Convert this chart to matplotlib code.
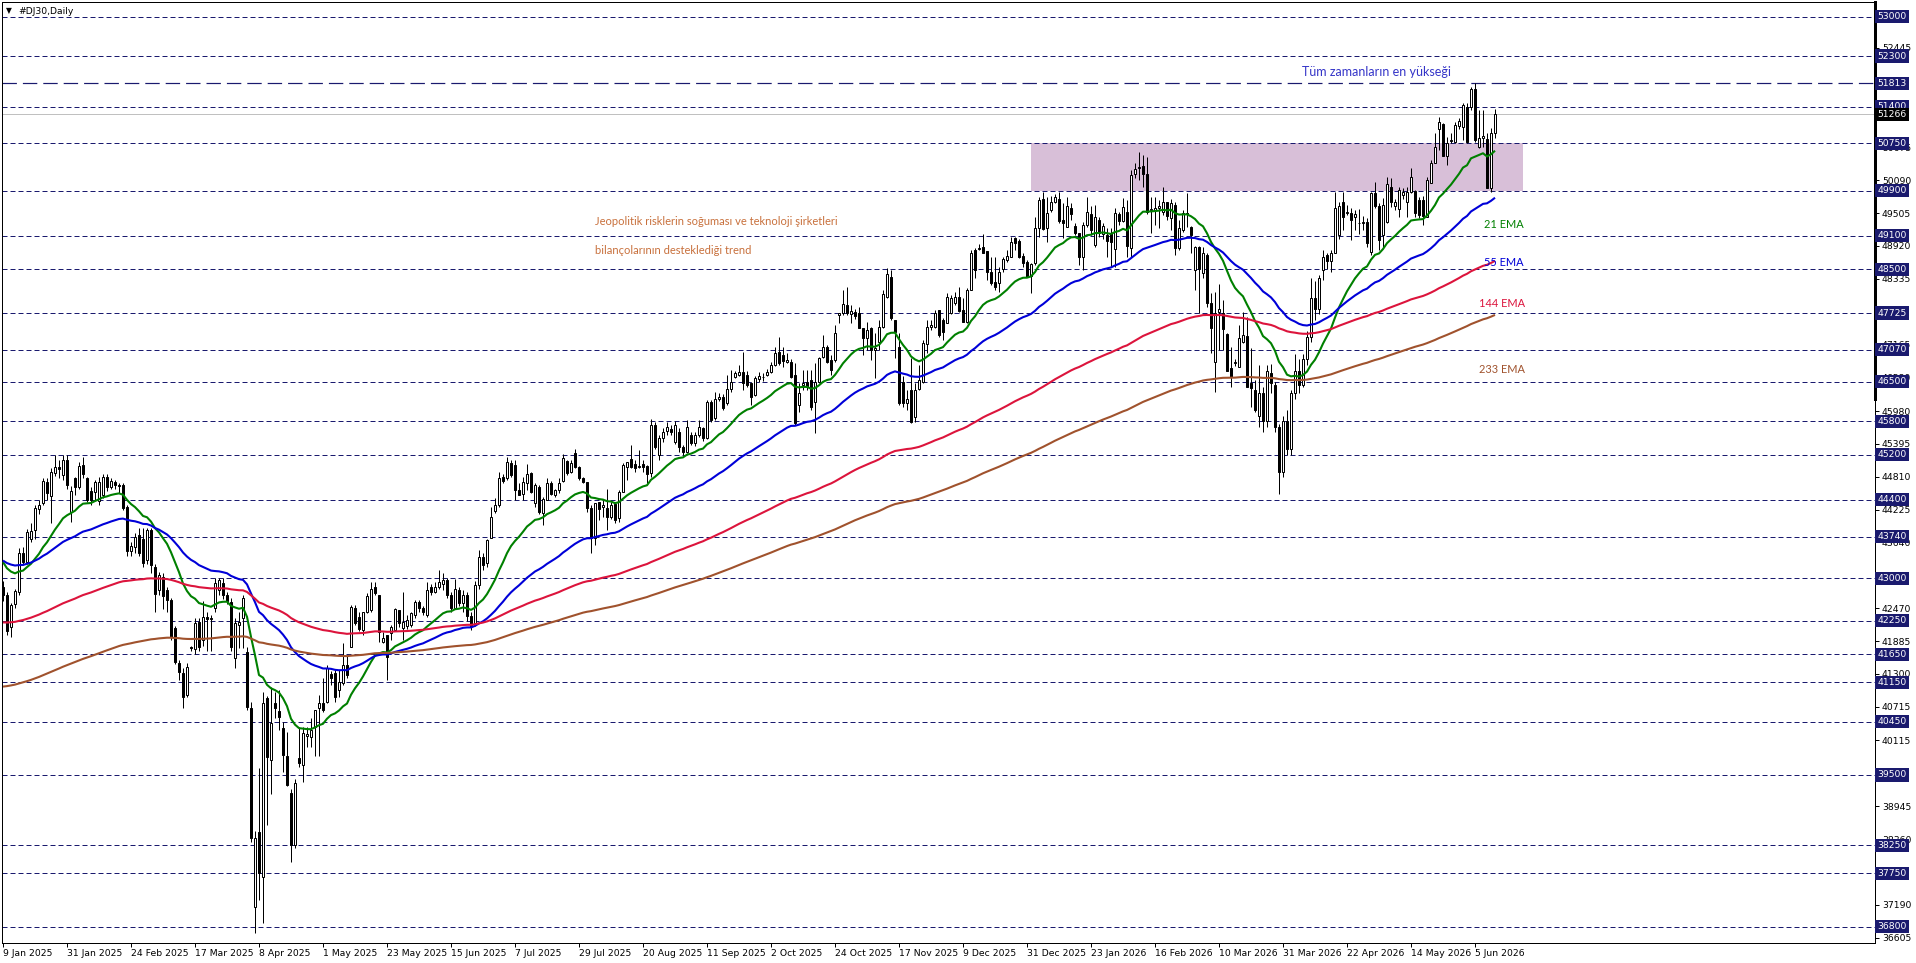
import matplotlib
matplotlib.use("Agg")
import matplotlib.pyplot as plt
from matplotlib.transforms import blended_transform_factory
import numpy as np

# ---------------- data ----------------
opens = [42850,42700,42140,42550,42760,43450,43300,43700,43860,44230,44340,44720,44460,44870,44990,44840,45110,44190,44780,44630,
 45020,44780,44560,44540,44370,44480,44810,44630,44720,44660,44660,44280,43490,43560,43770,43710,43330,43860,43210,42800,
 43030,42790,42620,42110,41490,41310,40920,41770,41750,42230,41900,42320,42270,42470,42800,42910,42700,42586,41577,42170,
 42290,41696,40687,37157,38492,37691,40865,39768,40776,40646,40332,39839,39186,38254,39797,39679,40195,40183,40361,40687,
 40776,40806,41298,41310,41014,41132,41459,41785,42468,42319,42082,42408,42438,42841,42705,41874,41993,42022,42082,42438,
 42111,42160,42171,42349,42586,42468,42349,42841,42764,42853,42900,42970,42700,42480,42800,42560,42700,42330,42200,42882,
 43387,43268,43713,44206,44307,44811,44781,45048,45019,44574,44502,44693,44870,44336,44633,44170,44396,44704,44485,44574,
 44740,45096,44900,45238,44989,44781,44722,44248,43713,44354,44277,44248,44087,44324,44069,44544,44989,45120,45036,44980,
 45036,45000,44870,45730,45197,45494,45630,45655,45435,45613,45346,45257,45554,45405,45554,45672,45494,46147,45850,46200,
 46236,46117,46367,46592,46622,46681,46622,46473,46266,46544,46580,46622,46681,46800,47037,46978,46859,46859,46622,46087,
 46450,46503,46533,46147,46503,46948,47114,46888,46888,47690,47719,47868,47707,47749,47731,47452,47274,47452,47060,47215,
 47482,48016,48372,47601,47126,46503,46117,46355,45880,46366,46503,47173,47482,47482,47779,47601,47553,47731,47900,48016,
 47779,47571,48134,48846,48870,48906,48829,48461,48283,48253,48503,48670,48728,49055,49013,48740,48639,48384,48610,49232,
 49749,49232,49559,49707,49749,49381,49262,49600,49274,49143,48728,49292,49488,48936,49381,49131,49114,49143,48859,49488,
 49369,49529,48876,50200,50300,50342,50200,49560,49560,49588,49529,49707,49410,49648,48876,49203,49500,49262,48491,48906,
 48443,48758,47909,46859,47750,47731,47351,46740,46830,46770,47215,47316,46473,46355,45900,46300,45800,46651,46450,45700,
 44900,45800,45300,46300,46700,46450,46900,47300,48000,47800,48490,48750,48650,48799,49114,49707,49500,49500,49440,49330,
 49320,49351,48817,49867,49630,49114,49351,49962,49630,49570,49820,49707,49885,49903,49737,49737,49440,50046,50401,50995,
 51090,50520,50780,50775,51060,51042,51386,51386,51707,50686,50840,50817,49944,50924]
highs = [42950,42750,42560,42820,43550,43560,43880,43980,44300,44400,44780,44780,44960,45200,45100,45200,45200,44640,44800,45080,
 45160,44800,44620,44760,44800,44860,44860,44780,44760,44700,44700,44300,43650,43800,43900,43900,43900,43900,43260,43110,
 43100,42850,42650,42150,41550,41400,41500,41800,42300,42300,42600,42400,42350,43000,43000,43000,42750,42645,42290,42400,
 42700,41780,40800,38500,39620,40980,40900,41070,40980,41010,40450,40270,39250,39420,40360,40360,40360,40510,40660,40925,
 41220,41460,41360,41370,41370,41845,41610,42527,42527,42400,42408,42735,42942,42942,42705,42052,41993,42170,42468,42438,
 42765,42350,42408,42616,42620,42500,42942,42900,42942,43150,43100,43000,42750,42990,42850,42800,42750,42400,42950,43500,
 43450,43700,44277,44425,44900,44850,45167,45100,45110,44690,44810,45036,44900,44690,44660,44455,44781,44740,44600,44781,
 45215,45108,45100,45300,45000,44800,44722,44307,44336,44366,44395,44585,44360,44366,44574,45048,45078,45375,45100,45285,
 45100,45020,45830,45780,45550,45680,45790,45730,45800,45680,45380,45820,45600,45600,45820,45700,46176,46176,46320,46300,
 46290,46622,46710,46700,46800,47037,46700,46503,46600,46680,46650,46720,46850,47126,47304,47126,47008,46900,46830,46473,
 46711,46711,46711,46830,46948,47334,47150,46978,47512,47719,48135,48194,47868,47800,47838,47452,47571,47482,47363,47601,
 48135,48520,48491,47601,47363,46600,46355,46918,46473,46800,47245,47601,47601,47779,47779,47630,48075,48050,48100,48194,
 47986,48164,48846,48876,48950,49126,48829,48728,48728,48550,48728,48846,49084,49084,49050,48787,48669,48610,49440,49796,
 49885,49796,49808,49850,49885,49678,49785,49690,49322,49143,49351,49784,49630,49648,49440,49320,49232,49232,49588,49530,
 49766,49737,50271,50390,50597,50538,50508,49796,49796,49737,49974,49707,49750,49707,49381,49559,49855,49274,48918,48918,
 48906,48787,48075,48105,48250,47957,47363,47126,46900,47512,47750,47660,47096,46532,46800,46400,46800,46820,46500,45750,
 45900,46000,46350,47000,46900,47000,47400,48350,48300,48400,48850,48800,48850,49885,49700,49885,49650,49590,49560,49570,
 49450,49410,49885,50063,49677,49766,50152,50122,49750,49974,49950,49974,50300,49915,49796,49800,50152,50448,50923,51220,
 51102,50864,50923,51132,51200,51458,51458,51742,51813,51339,51339,50923,51012,51351]
lows = [42600,42000,41960,42480,42700,43240,43250,43650,43700,44150,44300,44400,43980,44820,44780,44760,44600,44000,44480,44600,
 44780,44360,44300,44400,44300,44440,44560,44600,44600,44520,44220,43400,43400,43450,43400,43200,43250,43100,42400,42700,
 42450,42400,41900,41470,41200,40690,40880,41700,41650,41700,41800,41700,41700,42400,42700,42640,42550,41700,41400,41760,
 41760,40650,38300,36682,37280,36860,38610,39170,40510,40300,39560,39300,37958,38200,39650,39380,40000,40000,39830,39830,
 40630,40780,41100,40806,40895,41100,41220,41785,42170,42060,41990,42380,42410,42700,41874,41845,41192,41900,42082,42140,
 41900,42100,42140,42290,42400,42350,42320,42700,42740,42820,42800,42650,42400,42450,42500,42400,42250,42080,42150,42820,
 43150,43200,43713,44170,44277,44700,44750,44800,44395,44480,44395,44574,44514,44277,44150,43950,44396,44480,44450,44514,
 44722,44840,44870,44960,44760,44700,44188,43446,43594,44040,44099,43861,44050,43980,44010,44530,44750,44960,44900,44960,
 44900,44692,44810,45300,45100,45420,45560,45550,45400,45257,45200,45227,45380,45350,45520,45450,45480,45790,45820,46150,
 45990,46087,46325,46560,46600,46355,46400,46087,46240,46500,46520,46600,46650,46780,46800,46770,46830,46560,45730,45970,
 46355,46355,46000,45583,46474,46918,46830,46622,46859,47541,47690,47690,47541,47620,47452,46978,47067,46889,46562,47067,
 47452,47986,47601,46918,46087,46050,46000,45761,45791,46355,46473,47007,47420,47452,47304,47245,47541,47700,47870,47750,
 47571,47541,48134,48342,48850,48787,48313,48224,48135,48105,48461,48640,48728,48847,48700,48550,48372,48075,48580,49084,
 49203,48995,49530,49680,49322,49055,49262,49380,49114,48580,48491,49262,49114,48906,49084,49050,48728,48550,48550,49300,
 49351,48728,48728,50123,50093,49974,49488,49143,49292,49233,49470,49381,49203,48758,48847,49173,49262,48787,48135,47720,
 48342,47838,47007,46325,47066,47066,46698,46414,46780,46770,47185,46414,46058,45970,45700,45600,45700,46300,45600,44500,
 44800,45200,45200,46200,46300,46400,46800,47200,47600,47700,48310,48500,48450,48787,49050,49200,49470,49025,49200,49140,
 49200,48906,48758,49590,48847,48906,49322,49618,49560,49440,49750,49440,49855,49440,49410,49300,49440,50034,50390,50627,
 50520,50360,50745,50745,51000,50805,50745,51339,50775,50657,50686,49944,49885,50834]
closes = [42700,42070,42530,42780,43450,43300,43830,43850,44250,44310,44730,44520,44900,44990,44940,45100,44660,44560,44630,45000,
 44860,44400,44400,44720,44720,44800,44630,44730,44660,44640,44250,43480,43580,43730,43460,43270,43860,43240,42730,43060,
 42680,42620,41960,41520,41340,40890,41430,41760,42200,41780,42320,42270,42300,42910,42970,42700,42600,41773,42200,42230,
 42646,40717,38373,38373,37750,40776,39827,40420,40687,40527,39856,39323,38254,39352,39708,40242,40230,40302,40658,40788,
 40657,41400,41221,40895,41162,41459,41281,42485,42200,42094,42408,42687,42806,42735,42052,41934,41607,42141,42450,42200,
 42230,42260,42379,42586,42468,42408,42794,42764,42841,42942,42970,42700,42480,42820,42560,42700,42330,42150,42880,43387,
 43238,43683,44087,44307,44781,44740,45078,44841,44574,44485,44722,44860,44544,44663,44188,44408,44704,44502,44574,44704,
 45137,44870,45048,44989,44781,44722,44248,43713,44336,44230,44307,44099,44307,44040,44544,45019,45078,44989,44960,45000,
 44978,44860,45730,45345,45493,45613,45700,45613,45731,45346,45257,45690,45405,45554,45702,45494,46147,45820,46200,46236,
 46028,46367,46503,46651,46681,46474,46444,46236,46562,46604,46590,46681,46800,47008,46829,46877,46889,46592,45761,46295,
 46485,46414,46058,46503,46918,47126,46859,46710,47375,47719,47886,47719,47767,47672,47452,47274,47423,47066,47110,47482,
 48064,48420,47630,47393,46117,46117,46190,45790,46355,46533,47197,47482,47505,47731,47334,47393,48016,47986,48016,47766,
 47571,48134,48799,48491,48882,48799,48461,48253,48194,48461,48681,48740,48995,48965,48728,48621,48372,48598,49232,49737,
 49215,49511,49707,49796,49369,49322,49630,49490,49143,48728,49292,49529,49203,49440,49155,49274,49013,48995,49511,49369,
 49606,48918,50182,50283,50320,50200,49529,49580,49600,49630,49707,49452,49690,48876,49232,49511,49480,49114,48906,48503,
 48787,47909,47452,47719,47800,47434,46698,46580,46850,47274,47334,46414,46384,45998,46300,45800,46700,46473,45700,44900,
 45800,45300,46300,46700,46450,46900,47300,48000,47800,48350,48728,48650,48790,49600,49630,49440,49520,49380,49490,49320,
 49340,48965,49867,49630,49025,49648,50022,49707,49707,49915,49880,49885,50140,49500,49470,49450,50093,50401,50674,51131,
 50520,50757,50800,51072,51150,51428,50775,51707,50805,50835,50880,49944,50924,51266]

date_labels = ["9 Jan 2025", "31 Jan 2025", "24 Feb 2025", "17 Mar 2025", "8 Apr 2025", "1 May 2025",
               "23 May 2025", "15 Jun 2025", "7 Jul 2025", "29 Jul 2025", "20 Aug 2025", "11 Sep 2025",
               "2 Oct 2025", "24 Oct 2025", "17 Nov 2025", "9 Dec 2025", "31 Dec 2025", "23 Jan 2026",
               "16 Feb 2026", "10 Mar 2026", "31 Mar 2026", "22 Apr 2026", "14 May 2026", "5 Jun 2026"]
bars_per_label = 16

level_lines = [53000, 52300, 51400, 50750, 49900, 49100, 48500, 47725, 47070, 46500, 45800, 45200,
               44400, 43740, 43000, 42250, 41650, 41150, 40450, 39500, 38250, 37750, 36800]
ath_level = 51813
bid_price = 51266
scale_labels = [52445, 50675, 50090, 49505, 48920, 48335, 47165, 46580, 45980, 45395, 44810, 44225,
                43640, 42470, 41885, 41300, 40715, 40115, 38945, 38360, 37190, 36605]
zone_low, zone_high = 49900, 50750
zone_start_bar, zone_end_bar = 257, 380

ema_periods = [21, 55, 144, 233]
ema_seeds = [43350, 43340, 42210, 41060]
ema_colors = ["#008000", "#0000D8", "#DC143C", "#A0522D"]
ema_names = ["21 EMA", "55 EMA", "144 EMA", "233 EMA"]
ema_label_pos = [(370.3, 49292), (370.3, 48633), (369.0, 47903), (369.0, 46728)]

note_color = "#C8703C"
note_lines = ["Jeopolitik risklerin soğuması ve teknoloji şirketleri",
              "bilançolarının desteklediği trend"]
note_pos = [(148.0, 49346), (148.0, 48845)]
ath_text = "Tüm zamanların en yükseği"
ath_text_pos = (324.7, 52015)

# ---------------- figure ----------------
W, H = 1916, 963
fig = plt.figure(figsize=(W / 100, H / 100), dpi=100)
fig.patch.set_facecolor("white")
ax_l, ax_r, ax_t, ax_b = 2, 1875, 2, 943
ax = fig.add_axes([ax_l / W, (H - ax_b) / H, (ax_r - ax_l) / W, (ax_b - ax_t) / H])
ax.set_facecolor("white")

n = len(closes)
x = np.arange(n)
o = np.array(opens, float); h = np.array(highs, float)
l = np.array(lows, float); c = np.array(closes, float)

ax.set_xlim(-0.25, 468.0)
ax.set_ylim(36509, 53262)

NAVY = "#1A1A6E"
PX = 0.72  # one pixel in points

# zone rectangle
ax.fill_between([zone_start_bar, zone_end_bar], zone_low, zone_high, color="#D8BFD8", lw=0, zorder=1)

# level lines
for lv in level_lines:
    ax.axhline(lv, color=NAVY, lw=PX, ls=(0, (5, 3)), zorder=1.5)
ax.axhline(ath_level, color=NAVY, lw=PX * 1.2, ls=(0, (12, 5)), zorder=1.5)
ax.axhline(bid_price, color="#C0C0C0", lw=PX, zorder=1.4)

# candles
ax.vlines(x, l, h, color="black", lw=PX, zorder=3)
up = c >= o
body_bot = np.minimum(o, c)
body_h = np.maximum(np.abs(c - o), 8)
ax.bar(x[up], body_h[up], bottom=body_bot[up], width=0.5, facecolor="white",
       edgecolor="black", linewidth=PX, zorder=3.2)
ax.bar(x[~up], body_h[~up], bottom=body_bot[~up], width=0.5, facecolor="black",
       edgecolor="black", linewidth=PX, zorder=3.2)

# EMAs
for per, seed, col in zip(ema_periods, ema_seeds, ema_colors):
    alpha = 2.0 / (per + 1)
    vals = []
    prev = seed
    for v in closes:
        prev = prev + alpha * (v - prev)
        vals.append(prev)
    ax.plot(x, vals, color=col, lw=1.5, zorder=4, solid_capstyle="butt")

for name, col, (px_, py_) in zip(ema_names, ema_colors, ema_label_pos):
    ax.text(px_, py_, name, color=col, fontsize=7.9, family="Lato", va="center", ha="left", zorder=6)

for txt, (px_, py_) in zip(note_lines, note_pos):
    ax.text(px_, py_, txt, color=note_color, fontsize=8.05, family="Lato", va="center", ha="left", zorder=6)
ax.text(ath_text_pos[0], ath_text_pos[1], ath_text, color="#3434C8", fontsize=9.0, family="Lato",
        va="center", ha="left", zorder=6)

# spines
for s in ["left", "top", "right", "bottom"]:
    ax.spines[s].set_color("black")
    ax.spines[s].set_linewidth(PX)
ax.plot([468.0, 468.0], [46200, 53262], color="black", lw=PX * 3, clip_on=False, zorder=7)

# y axis on the right
FS = 6.7
ax.yaxis.tick_right()
ax.set_yticks(scale_labels)
ax.set_yticklabels([str(v) for v in scale_labels], fontsize=FS, family="DejaVu Sans")
ax.tick_params(axis="y", direction="out", length=3, width=PX, pad=2, colors="black")

tr = blended_transform_factory(ax.transAxes, ax.transData)
x_box = 1.0 + 2.5 / (ax_r - ax_l)
for lv in level_lines + [ath_level]:
    ax.text(x_box, lv, str(lv), transform=tr, color="white", fontsize=FS, family="DejaVu Sans",
            ha="left", va="center", clip_on=False, zorder=8,
            bbox=dict(boxstyle="square,pad=0.22", fc=NAVY, ec=NAVY, lw=0))
ax.text(x_box, bid_price, str(bid_price), transform=tr, color="white", fontsize=FS, family="DejaVu Sans",
        ha="left", va="center", clip_on=False, zorder=8,
        bbox=dict(boxstyle="square,pad=0.22", fc="black", ec="black", lw=0))

# x axis
tick_pos = [i * bars_per_label for i in range(len(date_labels))]
ax.set_xticks(tick_pos)
ax.set_xticklabels(date_labels, fontsize=FS, family="DejaVu Sans", ha="left")
ax.tick_params(axis="x", direction="out", length=3, width=PX, pad=1.5, colors="black")

# header
fig.text(6 / W, 1 - 11 / H, "▼", fontsize=5.5, family="DejaVu Sans", va="center", ha="left")
fig.text(18 / W, 1 - 11 / H, "#DJ30,Daily", fontsize=FS, family="DejaVu Sans", va="center", ha="left")

fig.savefig("out.png", dpi=100, facecolor="white")
